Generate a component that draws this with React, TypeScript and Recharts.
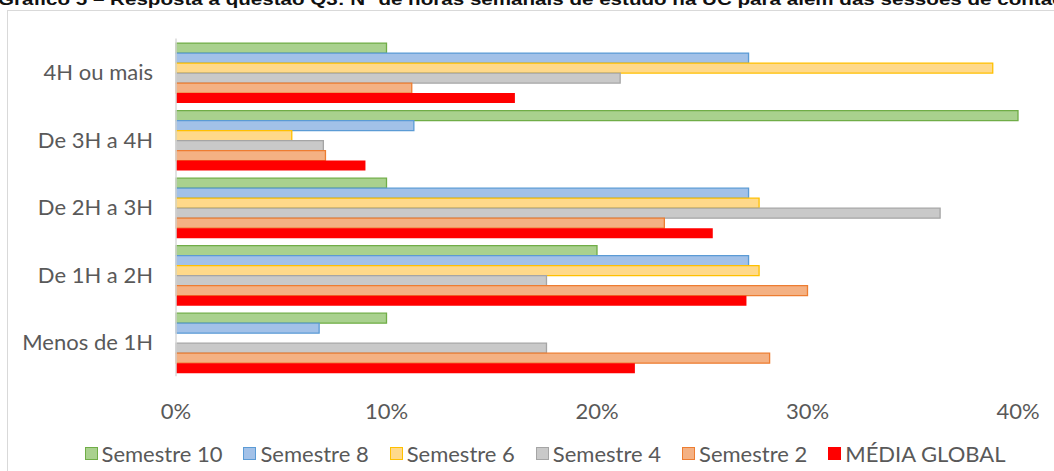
import React from 'react';
import { BarChart, Bar, XAxis, YAxis, Legend } from 'recharts';

const categories = ['4H ou mais', 'De 3H a 4H', 'De 2H a 3H', 'De 1H a 2H', 'Menos de 1H'];
const semestre10 = [10, 40, 10, 20, 10];
const semestre8 = [27.2, 11.3, 27.2, 27.2, 6.8];
const semestre6 = [38.8, 5.5, 27.7, 27.7, 0];
const semestre4 = [21.1, 7.0, 36.3, 17.6, 17.6];
const semestre2 = [11.2, 7.1, 23.2, 30.0, 28.2];
const mediaGlobal = [16.1, 9.0, 25.5, 27.1, 21.8];
const xTicks = [0, 10, 20, 30, 40];

const TITLE = 'Gráfico 5 – Resposta à questão Q3: Nº de horas semanais de estudo na UC para além das sessões de contacto';

const series = [
    { key: 's10', name: 'Semestre 10', values: semestre10, fill: '#A9D18E', stroke: '#70AD47' },
    { key: 's8', name: 'Semestre 8', values: semestre8, fill: '#A2C1E8', stroke: '#5B9BD5' },
    { key: 's6', name: 'Semestre 6', values: semestre6, fill: '#FFD98A', stroke: '#FFC000' },
    { key: 's4', name: 'Semestre 4', values: semestre4, fill: '#C9C9C9', stroke: '#A5A5A5' },
    { key: 's2', name: 'Semestre 2', values: semestre2, fill: '#F4B183', stroke: '#ED7D31' },
    { key: 'media', name: 'MÉDIA GLOBAL', values: mediaGlobal, fill: '#FF0000', stroke: 'none' },
];

const data = categories.map((name, i) => {
    const row: Record<string, string | number> = { name };
    series.forEach(s => { row[s.key] = s.values[i]; });
    return row;
});

const FONT = 'Lato, "Open Sans", sans-serif';
const TEXT_GRAY = '#595959';

const LegendContent = () => (
    <div style={{
        height: 24, display: 'flex', alignItems: 'center', justifyContent: 'center',
        paddingLeft: 72, gap: 21, fontFamily: FONT, fontSize: 22, color: TEXT_GRAY,
    }}>
        {series.map(s => (
            <div key={s.key} style={{ display: 'flex', alignItems: 'center', gap: 4, whiteSpace: 'nowrap' }}>
                <span style={{
                    width: 11, height: 11, background: s.fill,
                    border: `1px solid ${s.stroke === 'none' ? s.fill : s.stroke}`,
                }} />
                <span>{s.name}</span>
            </div>
        ))}
    </div>
);

export default function App() {
    return (
        <div style={{ position: 'absolute', left: 0, top: 0, width: 1054, height: 471, overflow: 'hidden', background: '#fff' }}>
            <svg width={1054} height={12} style={{ position: 'absolute', left: 0, top: 0 }}>
                <text x={-2} y={4.5} fontSize={17} fontWeight="bold" fill="#111"
                    fontFamily='"Liberation Sans", Arial, sans-serif'
                    textLength={1085} lengthAdjust="spacingAndGlyphs">{TITLE}</text>
            </svg>
            <div style={{
                position: 'absolute', left: 7, top: 10, width: 1100, height: 500,
                border: '1px solid #D9D9D9', boxSizing: 'border-box',
            }} />
            <div style={{ position: 'absolute', left: 0, top: 0, fontFamily: FONT }}>
                <BarChart
                    width={1054}
                    height={471}
                    data={data}
                    layout="vertical"
                    margin={{ top: 38.6, right: 36, bottom: 6, left: 0 }}
                    barCategoryGap={4.5}
                    barGap={0}
                >
                    <XAxis
                        type="number"
                        domain={[0, 40]}
                        ticks={xTicks}
                        tickFormatter={(v: number) => `${v}%`}
                        axisLine={false}
                        tickLine={false}
                        tickSize={0}
                        tickMargin={27}
                        height={64.8}
                        tick={{ fill: TEXT_GRAY, fontSize: 22 }}
                        interval={0}
                    />
                    <YAxis
                        type="category"
                        dataKey="name"
                        width={176}
                        axisLine={{ stroke: '#D9D9D9', strokeWidth: 1.5 }}
                        tickLine={false}
                        tickSize={0}
                        tickMargin={23}
                        tick={{ fill: TEXT_GRAY, fontSize: 22 }}
                        interval={0}
                    />
                    <Legend verticalAlign="bottom" content={<LegendContent />} />
                    {series.map(s => (
                        <Bar
                            key={s.key}
                            dataKey={s.key}
                            name={s.name}
                            fill={s.fill}
                            stroke={s.stroke}
                            strokeWidth={1.3}
                            isAnimationActive={false}
                        />
                    ))}
                </BarChart>
            </div>
        </div>
    );
}
